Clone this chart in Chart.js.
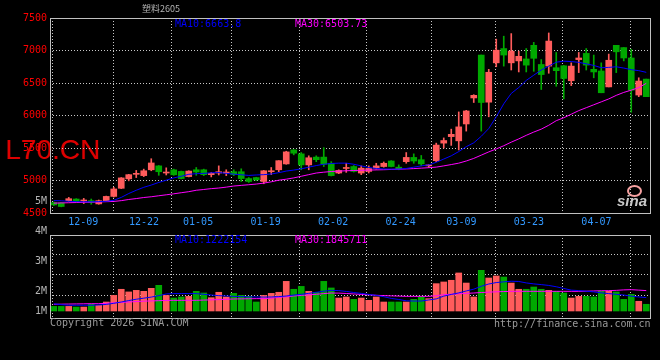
<!DOCTYPE html>
<html>
<head>
<meta charset="utf-8">
<script src="https://cdn.jsdelivr.net/npm/chart.js@4.4.1/dist/chart.umd.min.js"></script>
<style>
  body { margin: 0; background: #000; }
  #lienzo { position: relative; width: 660px; height: 360px; background: #000; overflow: hidden;
            font-family: 'DejaVu Sans Mono', monospace; font-size: 10px; }
  canvas { position: absolute; left: 0; z-index: 1; }
  .t { position: absolute; white-space: nowrap; line-height: 10px; z-index: 2; }
  .gris { color: #b4b4b4; }
</style>
</head>
<body>
<div id="lienzo">
  <div class="t" style="left:5px;top:136px;font:28px 'Liberation Sans',sans-serif;line-height:28px;color:#dd0000;z-index:0;">L70.CN</div>
  <div class="t gris" style="left:142px;top:4px;font-size:9px;font-family:'Noto Sans CJK SC',sans-serif;line-height:10px;">塑料2605</div>
  <div class="t" style="left:175px;top:19px;color:#0000ff;">MA10:6663.8</div>
  <div class="t" style="left:295px;top:19px;color:#ff00ff;">MA30:6503.73</div>
  <div class="t gris" style="left:35px;top:196px;">5M</div>

  <div class="t gris" style="left:35px;top:226px;">4M</div>
  <div class="t gris" style="left:35px;top:256px;">3M</div>
  <div class="t gris" style="left:35px;top:286px;">2M</div>
  <div class="t gris" style="left:35px;top:306px;">1M</div>
  <div class="t" style="left:175px;top:235px;color:#0000ff;">MA10:1222154</div>
  <div class="t" style="left:295px;top:235px;color:#ff00ff;">MA30:1845711</div>

  <div class="t" style="left:50px;top:318px;color:#9a9a9a;">Copyright 2026 SINA.COM</div>
  <div class="t" style="left:494px;top:319px;color:#9a9a9a;">http://finance.sina.com.cn</div>

  <div style="position:absolute;left:627px;top:185px;width:11px;height:8px;border:2px solid #f4a0a0;border-radius:50%;z-index:2;"></div>
  <div class="t" style="left:617px;top:194px;font:italic bold 15px 'Liberation Sans',sans-serif;line-height:14px;color:#c8c8c8;">sina</div>

  <canvas id="grafica-precio" width="660" height="232" style="top:0"></canvas>
  <canvas id="grafica-volumen" width="660" height="130" style="top:230px"></canvas>
</div>

<script>
// ─────────────────────────────────────────────────────────────
// Datos (80 sesiones, 12-09 a 04-10)
// ─────────────────────────────────────────────────────────────
const fechas = [
  '12-09','12-10','12-11','12-12','12-15','12-16','12-17','12-18','12-19','12-22',
  '12-23','12-24','12-25','12-26','12-29','12-30','12-31','01-05','01-06','01-07',
  '01-08','01-09','01-12','01-13','01-14','01-15','01-16','01-19','01-20','01-21',
  '01-22','01-23','01-26','01-27','01-28','01-29','01-30','02-02','02-03','02-04',
  '02-05','02-06','02-09','02-10','02-11','02-12','02-13','02-24','02-25','02-26',
  '02-27','03-02','03-03','03-04','03-05','03-06','03-09','03-10','03-11','03-12',
  '03-13','03-16','03-17','03-18','03-19','03-20','03-23','03-24','03-25','03-26',
  '03-27','03-30','03-31','04-01','04-02','04-03','04-07','04-08','04-09','04-10'
];

// Fechas que llevan etiqueta y línea vertical
const fechasEje = ['12-09','12-22','01-05','01-19','02-02','02-24','03-09','03-23','04-07'];

// Marcas del eje de precio
const ticksPrecio = [4500, 5000, 5500, 6000, 6500, 7000, 7500];

const aperturas = [
  4660,4655,4690,4715,4685,4690,4640,4690,4755,4880,
  5025,5095,5075,5165,5225,5115,5164,5140,5060,5165,
  5165,5090,5115,5115,5135,5135,5030,5045,4985,5135,
  5165,5255,5471,5410,5240,5360,5360,5265,5115,5185,
  5215,5115,5140,5190,5215,5300,5205,5290,5355,5320,
  5225,5305,5575,5675,5610,5870,6270,6930,6205,6810,
  7030,6810,6840,6870,7080,6785,6760,6735,6765,6535,
  6860,6955,6710,6685,6440,7080,7045,6885,6315,6560
];
const maximos = [
  4670,4660,4740,4720,4725,4715,4700,4760,4895,5045,
  5095,5155,5175,5335,5230,5195,5175,5145,5150,5200,
  5175,5125,5225,5165,5165,5180,5045,5050,5155,5200,
  5305,5450,5475,5430,5380,5380,5505,5290,5165,5265,
  5230,5225,5225,5265,5285,5305,5240,5430,5410,5385,
  5245,5575,5655,5790,6055,6080,6320,6930,6710,7175,
  7220,7260,6990,7030,7125,6860,7270,6970,6770,6810,
  6970,7030,6930,6810,6945,7080,7045,7020,6580,6560
];
const minimos = [
  4615,4595,4680,4665,4645,4635,4635,4685,4745,4875,
  4995,5045,5060,5150,5080,5085,5080,5025,5055,5080,
  5075,5055,5085,5075,5075,4985,4970,5000,4950,5090,
  5135,5250,5395,5165,5165,5290,5215,5070,5105,5125,
  5130,5090,5115,5175,5205,5210,5165,5265,5265,5225,
  5200,5290,5500,5540,5470,5760,6200,5760,5980,6750,
  6760,6700,6670,6670,6680,6400,6650,6450,6255,6460,
  6660,6700,6580,6350,6440,6660,6840,6050,6290,6290
];
const cierres = [
  4625,4600,4720,4670,4700,4665,4690,4755,4870,5040,
  5090,5110,5150,5270,5135,5130,5088,5030,5145,5130,
  5090,5110,5135,5130,5090,5030,4985,5010,5150,5150,
  5305,5440,5420,5240,5350,5320,5250,5075,5155,5200,
  5140,5190,5185,5225,5265,5215,5180,5355,5300,5255,
  5240,5545,5615,5710,5825,6070,6310,6200,6665,7005,
  6930,6990,6910,6775,6880,6630,7145,6690,6570,6760,
  6885,6775,6670,6350,6850,6980,6885,6390,6530,6290
];

// Medias móviles
const ma10Precio = [
  4690,4688,4680,4675,4672,4672,4675,4680,4695,4740,
  4800,4850,4895,4930,4970,5005,5040,5065,5095,5105,
  5110,5118,5123,5110,5098,5088,5078,5085,5090,5100,
  5120,5145,5160,5180,5205,5230,5250,5262,5267,5267,
  5250,5225,5200,5185,5177,5175,5175,5185,5205,5225,
  5240,5280,5330,5380,5445,5520,5580,5680,5800,5980,
  6180,6340,6430,6540,6620,6700,6760,6820,6836,6830,
  6818,6795,6770,6735,6740,6750,6730,6705,6690,6664
];
const ma30Precio = [
  4652,4655,4658,4661,4664,4667,4670,4674,4678,4690,
  4708,4722,4738,4750,4765,4780,4795,4812,4828,4850,
  4862,4875,4884,4898,4915,4925,4935,4945,4960,4980,
  5005,5020,5040,5065,5090,5115,5128,5138,5144,5150,
  5154,5157,5160,5163,5166,5170,5174,5178,5183,5190,
  5197,5206,5225,5245,5267,5300,5340,5390,5440,5485,
  5535,5590,5640,5695,5745,5790,5850,5920,5965,6020,
  6075,6120,6165,6210,6255,6310,6355,6390,6430,6494
];

const volumenes = [
  385000,385000,385000,330000,330000,560000,475000,750000,1300000,1810000,
  1590000,1720000,1640000,1890000,2140000,1300000,1080000,1170000,1220000,1640000,
  1500000,1110000,1560000,1170000,1470000,1300000,1220000,750000,1300000,1470000,
  1560000,2470000,1810000,2050000,1640000,1560000,2470000,1920000,1080000,1170000,
  970000,1080000,890000,1170000,750000,750000,750000,750000,970000,1170000,
  1030000,2280000,2420000,2560000,3170000,2330000,1170000,3390000,2750000,2920000,
  2830000,2330000,1810000,1810000,2000000,1810000,1720000,1640000,1500000,1080000,
  1220000,1220000,1170000,1640000,1640000,1590000,970000,1390000,810000,560000
];
const ma10Volumen = [
  600000,530000,480000,480000,480000,480000,500000,550000,640000,750000,
  870000,980000,1070000,1160000,1280000,1420000,1450000,1450000,1450000,1450000,
  1390000,1330000,1280000,1250000,1220000,1200000,1180000,1170000,1160000,1170000,
  1200000,1250000,1330000,1390000,1470000,1560000,1650000,1720000,1700000,1630000,
  1540000,1470000,1380000,1300000,1190000,1050000,960000,850000,830000,830000,
  920000,1010000,1240000,1380000,1510000,1670000,1820000,2060000,2250000,2370000,
  2430000,2480000,2460000,2340000,2260000,2200000,2130000,2020000,1880000,1740000,
  1700000,1650000,1590000,1510000,1450000,1390000,1330000,1240000,1170000,1120000
];
const ma30Volumen = [
  560000,570000,580000,590000,600000,610000,610000,640000,680000,720000,
  750000,790000,820000,840000,860000,880000,890000,890000,890000,890000,
  910000,930000,950000,980000,1000000,1010000,1020000,1030000,1030000,1070000,
  1140000,1190000,1250000,1300000,1350000,1390000,1450000,1500000,1490000,1460000,
  1420000,1380000,1350000,1310000,1280000,1260000,1240000,1220000,1220000,1220000,
  1220000,1270000,1360000,1400000,1430000,1470000,1500000,1540000,1570000,1600000,
  1620000,1640000,1640000,1640000,1640000,1640000,1640000,1640000,1640000,1640000,
  1640000,1650000,1670000,1690000,1700000,1720000,1760000,1780000,1740000,1700000
];

// Líneas horizontales de la cuadrícula de volumen
const ticksVolumen = [1333000, 3000000, 4667000];


// ─────────────────────────────────────────────────────────────
// Estilos comunes
// ─────────────────────────────────────────────────────────────
const ROJO = '#ff5c5c';
const VERDE = '#00a800';
const REJILLA = '#c8c8c8';

Chart.defaults.font.family = "'DejaVu Sans Mono', monospace";
Chart.defaults.font.size = 10;

// Rojo si sube, verde si baja (convención china)
const coloresVela = cierres.map((c, i) => c >= aperturas[i] ? ROJO : VERDE);
const indicesEje = fechasEje.map(f => fechas.indexOf(f));

// Marco sólido alrededor del área de trazado
const marco = {
  id: 'marco',
  afterDraw(chart) {
    const { ctx, chartArea: a } = chart;
    ctx.save();
    ctx.setLineDash([]);
    ctx.strokeStyle = '#c0c0c0';
    ctx.lineWidth = 1;
    ctx.strokeRect(Math.round(a.left) + 0.5, Math.round(a.top) + 0.5,
                   Math.round(a.right - a.left), Math.round(a.bottom - a.top));
    ctx.restore();
  }
};

// Eje lineal auxiliar para las líneas verticales y las fechas
function ejeFechas(conEtiquetas) {
  return {
    type: 'linear',
    position: 'bottom',
    min: 0,
    max: fechas.length - 1,
    afterBuildTicks: ax => { ax.ticks = indicesEje.map(v => ({ value: v })); },
    afterFit: ax => { ax.height = conEtiquetas ? 19 : 0; },
    ticks: {
      display: conEtiquetas,
      color: '#3399ff',
      padding: 3,
      maxRotation: 0,
      autoSkip: false,
      callback: v => fechas[v]
    },
    grid: { color: REJILLA, drawTicks: false },
    border: { display: false, dash: [1, 2] }
  };
}

function lineaMedia(datos, color) {
  return {
    type: 'line',
    data: datos,
    borderColor: color,
    borderWidth: 1,
    pointRadius: 0,
    tension: 0,
    order: 0
  };
}


// ─────────────────────────────────────────────────────────────
// Gráfica de velas con MA10 y MA30
// ─────────────────────────────────────────────────────────────
new Chart(document.getElementById('grafica-precio'), {
  type: 'bar',
  data: {
    labels: fechas,
    datasets: [
      lineaMedia(ma10Precio, '#0000ff'),
      lineaMedia(ma30Precio, '#ff00ff'),
      {
        // cuerpo de la vela
        data: aperturas.map((o, i) => [o, cierres[i]]),
        backgroundColor: coloresVela,
        barThickness: 6,
        minBarLength: 1,
        grouped: false,
        order: 1
      },
      {
        // mecha
        data: minimos.map((l, i) => [l, maximos[i]]),
        backgroundColor: coloresVela,
        barThickness: 1,
        grouped: false,
        order: 2
      }
    ]
  },
  options: {
    responsive: false,
    animation: false,
    layout: { padding: { top: 18, right: 10, left: 0, bottom: 0 } },
    plugins: { legend: { display: false }, tooltip: { enabled: false } },
    scales: {
      x: { display: false, offset: true },
      xd: ejeFechas(true),
      y: {
        min: ticksPrecio[0],
        max: ticksPrecio[ticksPrecio.length - 1],
        afterBuildTicks: ax => { ax.ticks = ticksPrecio.map(v => ({ value: v })); },
        afterFit: ax => { ax.width = 50; },
        ticks: { color: '#ff0000', padding: 3, callback: v => String(v) },
        grid: { color: REJILLA, drawTicks: false },
        border: { display: false, dash: [1, 2] }
      }
    }
  },
  plugins: [marco]
});


// ─────────────────────────────────────────────────────────────
// Gráfica de volumen con MA10 y MA30
// ─────────────────────────────────────────────────────────────
new Chart(document.getElementById('grafica-volumen'), {
  type: 'bar',
  data: {
    labels: fechas,
    datasets: [
      lineaMedia(ma10Volumen, '#0000ff'),
      lineaMedia(ma30Volumen, '#ff00ff'),
      {
        data: volumenes,
        backgroundColor: coloresVela,
        barThickness: 6,
        grouped: false,
        order: 1
      }
    ]
  },
  options: {
    responsive: false,
    animation: false,
    layout: { padding: { top: 5, right: 10, left: 50, bottom: 42 } },
    plugins: { legend: { display: false }, tooltip: { enabled: false } },
    scales: {
      x: { display: false, offset: true },
      xd: ejeFechas(false),
      y: {
        min: -583000,
        max: 6333000,
        afterBuildTicks: ax => { ax.ticks = ticksVolumen.map(v => ({ value: v })); },
        afterFit: ax => { ax.width = 0; },
        ticks: { display: false },
        grid: { color: REJILLA, drawTicks: false },
        border: { display: false, dash: [1, 2] }
      }
    }
  },
  plugins: [marco]
});
</script>
</body>
</html>
